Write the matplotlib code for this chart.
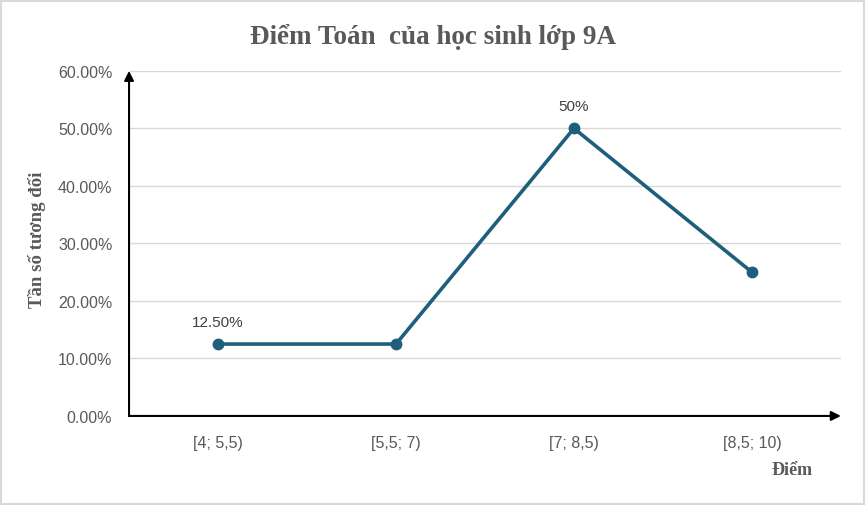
import numpy as np
import matplotlib.pyplot as plt
from matplotlib.ticker import FuncFormatter

categories = ['[4; 5,5)', '[5,5; 7)', '[7; 8,5)', '[8,5; 10)']
values = [12.5, 12.5, 50, 25]
labels = {0: '12.50%', 2: '50%'}

line_color = '#1F5F7E'
text_gray = '#595959'

fig = plt.figure(figsize=(8.66, 5.06), dpi=100)
fig.patch.set_facecolor('white')
# thin gray frame around the whole chart
fig.add_artist(plt.Rectangle((0.001, 0.002), 0.997, 0.995, transform=fig.transFigure,
                             fill=False, edgecolor='#D9D9D9', linewidth=1.5))

ax = fig.add_axes([0.149, 0.176, 0.822, 0.682])
x = np.arange(len(categories))
ax.plot(x, values, color=line_color, linewidth=2.6, marker='o', markersize=7.5,
        zorder=3, clip_on=False)
for i, txt in labels.items():
    ax.annotate(txt, (x[i], values[i]), xytext=(0, 11), textcoords='offset points',
                ha='center', va='bottom', fontsize=11, color='#404040',
                family='Liberation Sans')

ax.set_xlim(-0.5, 3.5)
ax.set_ylim(0, 60)
ax.set_yticks(np.arange(0, 61, 10))
ax.yaxis.set_major_formatter(FuncFormatter(lambda v, p: f'{v:.2f}%'))
ax.set_xticks(x)
ax.set_xticklabels(categories)
ax.grid(axis='y', color='#D9D9D9', linewidth=1)
ax.set_axisbelow(True)
for s in ax.spines.values():
    s.set_visible(False)
ax.tick_params(length=0, labelsize=11.5, labelcolor=text_gray)
ax.tick_params(axis='y', pad=12)
ax.tick_params(axis='x', pad=14)
for lab in ax.get_xticklabels() + ax.get_yticklabels():
    lab.set_family('Liberation Sans')

# axis arrows
ax.annotate('', xy=(1.0, 0), xytext=(0, 0), xycoords='axes fraction',
            arrowprops=dict(arrowstyle='-|>', color='black', lw=1.5,
                            mutation_scale=14, shrinkA=0, shrinkB=0))
ax.annotate('', xy=(0, 1.0), xytext=(0, 0), xycoords='axes fraction',
            arrowprops=dict(arrowstyle='-|>', color='black', lw=1.5,
                            mutation_scale=14, shrinkA=0, shrinkB=0))

fig.text(0.5, 0.927, 'Điểm Toán  của học sinh lớp 9A', ha='center', va='center',
         fontsize=19.5, fontweight='bold', color=text_gray, family='Liberation Serif')
fig.text(0.043, 0.527, 'Tần số tương đối', rotation=90, ha='center', va='center',
         fontsize=13.5, fontweight='bold', color=text_gray, family='Liberation Serif')
fig.text(0.915, 0.07, 'Điểm', ha='center', va='center',
         fontsize=13, fontweight='bold', color=text_gray, family='Liberation Serif')

fig.savefig('out.png', dpi=100)
